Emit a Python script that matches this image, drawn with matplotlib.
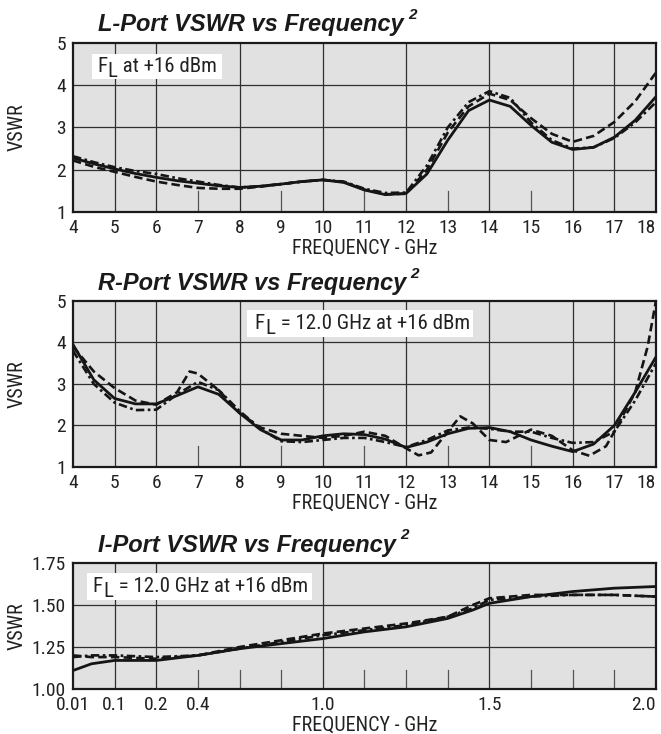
import numpy as np
import matplotlib
matplotlib.use("Agg")
import matplotlib.pyplot as plt
from matplotlib import font_manager
from matplotlib.patches import Rectangle

# -------- FONTS --------
names = {f.name for f in font_manager.fontManager.ttflist}
NARROW = "Liberation Sans"
for cand in ["Liberation Sans Narrow", "Roboto Condensed", "DejaVu Sans Condensed",
             "Liberation Sans"]:
    if cand in names:
        NARROW = cand
        break
TITLE_FONT = "Liberation Sans" if "Liberation Sans" in names else "DejaVu Sans"
plt.rcParams["font.family"] = [NARROW, "DejaVu Sans"]

# -------- DATA: L-PORT --------
L_FREQ = [4, 4.5, 5, 5.5, 6, 6.5, 7, 7.5, 8, 8.5, 9, 9.5, 10, 10.5, 11, 11.5, 12,
          12.5, 13, 13.5, 14, 14.5, 15, 15.5, 16, 16.5, 17, 17.5, 18]
L_SOLID = [2.28, 2.14, 2.02, 1.91, 1.82, 1.74, 1.68, 1.62, 1.58, 1.61, 1.66, 1.72, 1.76,
           1.70, 1.52, 1.41, 1.44, 1.90, 2.70, 3.40, 3.65, 3.50, 3.05, 2.65, 2.48,
           2.53, 2.77, 3.17, 3.73]
L_DASH = [2.22, 2.07, 1.95, 1.83, 1.72, 1.64, 1.57, 1.55, 1.55, 1.60, 1.66, 1.72, 1.76,
          1.71, 1.53, 1.42, 1.43, 2.00, 2.88, 3.50, 3.80, 3.65, 3.22, 2.85, 2.66,
          2.80, 3.13, 3.62, 4.30]
L_DASHDOT = [2.32, 2.18, 2.06, 1.97, 1.90, 1.80, 1.72, 1.64, 1.58, 1.61, 1.66, 1.72, 1.76,
             1.72, 1.55, 1.45, 1.46, 2.10, 3.00, 3.60, 3.86, 3.70, 3.12, 2.70, 2.50,
             2.53, 2.75, 3.12, 3.60]

# -------- DATA: R-PORT --------
R_FREQ = [4, 4.5, 5, 5.5, 6, 6.5, 7, 7.5, 8, 8.5, 9, 9.5, 10, 10.5, 11, 11.5, 12,
          12.5, 13, 13.5, 14, 14.5, 15, 15.5, 16, 16.5, 17, 17.5, 18]
R_SOLID = [3.95, 3.10, 2.65, 2.52, 2.52, 2.72, 2.93, 2.75, 2.30, 1.90, 1.65, 1.65, 1.75,
           1.80, 1.78, 1.67, 1.47, 1.60, 1.80, 1.93, 1.95, 1.85, 1.65, 1.50, 1.37,
           1.55, 2.00, 2.80, 3.65]
R_DASH_FREQ = [4, 4.5, 5, 5.5, 6, 6.5, 6.8, 7, 7.5, 8, 8.5, 9, 9.5, 10, 10.5, 11, 11.5,
               12, 12.3, 12.6, 13, 13.3, 13.6, 14, 14.4, 15, 15.5, 16, 16.4, 16.8, 17,
               17.5, 17.8, 18]
R_DASH = [3.90, 3.30, 2.90, 2.60, 2.50, 2.80, 3.30, 3.25, 2.85, 2.30, 1.95, 1.80, 1.75,
          1.70, 1.75, 1.85, 1.75, 1.45, 1.28, 1.35, 1.85, 2.22, 2.05, 1.65, 1.60, 1.90,
          1.75, 1.40, 1.27, 1.50, 1.85, 2.80, 3.90, 5.00]
R_DASHDOT = [3.80, 3.00, 2.55, 2.37, 2.38, 2.75, 3.05, 2.85, 2.35, 1.92, 1.62, 1.60, 1.65,
             1.70, 1.70, 1.60, 1.48, 1.65, 1.88, 1.95, 1.92, 1.85, 1.85, 1.70, 1.58,
             1.60, 1.85, 2.60, 3.50]

# -------- DATA: I-PORT --------
I_FREQ = [0.01, 0.05, 0.1, 0.2, 0.4, 0.6, 0.8, 1.0, 1.125, 1.25, 1.375, 1.45, 1.5,
          1.625, 1.75, 1.875, 2.0]
I_SOLID = [1.11, 1.15, 1.17, 1.17, 1.20, 1.24, 1.27, 1.30, 1.34, 1.37, 1.42, 1.47, 1.51,
           1.55, 1.58, 1.60, 1.61]
I_DASH = [1.20, 1.19, 1.19, 1.18, 1.20, 1.25, 1.29, 1.33, 1.36, 1.39, 1.43, 1.50, 1.54,
          1.56, 1.56, 1.56, 1.55]
I_DASHDOT = [1.19, 1.20, 1.20, 1.19, 1.20, 1.24, 1.28, 1.32, 1.35, 1.38, 1.43, 1.48, 1.53,
             1.55, 1.56, 1.56, 1.55]

I_BREAK_GHZ = [0.01, 0.1, 0.2, 0.4, 1.0, 1.5, 2.0]
I_BREAK_POS = [0, 1, 2, 3, 6, 10, 14]
I_TICKS = [0.01, 0.1, 0.2, 0.4, 1.0, 1.5, 2.0]
I_TICKLABELS = ["0.01", "0.1", "0.2", "0.4", "1.0", "1.5", "2.0"]

LINE = "#151515"
GRID = "#303030"
TXT = "#222222"


def fwd(x):
    return np.interp(x, I_BREAK_GHZ, I_BREAK_POS)


def inv(x):
    return np.interp(x, I_BREAK_POS, I_BREAK_GHZ)


def style_axes(ax):
    ax.set_facecolor("#e1e1e2")
    for s in ax.spines.values():
        s.set_linewidth(1.6)
        s.set_color("#1a1a1a")
    ax.tick_params(length=0, labelsize=14, colors=TXT, pad=5)
    ax.set_ylabel("VSWR", fontsize=14.5, color=TXT)
    ax.yaxis.set_label_coords(-0.079, 0.5)
    ax.set_xlabel("FREQUENCY - GHz", fontsize=14.5, color=TXT, labelpad=1)


def last_label_right(ax):
    lbl = ax.get_xticklabels()[-1]
    lbl.set_horizontalalignment("right")


def add_title(ax, text, y):
    t = ax.text(0.043, y, text, transform=ax.transAxes, fontsize=17,
                fontweight="bold", fontstyle="italic", family=TITLE_FONT,
                color="#1a1a1a", va="baseline")
    ax.annotate("2", xy=(1, 0.62), xycoords=t, xytext=(3, 0),
                textcoords="offset points", fontsize=11, fontweight="bold",
                fontstyle="italic", family=TITLE_FONT, color="#1a1a1a", va="bottom")


def add_note(ax, box, xy, rest):
    ax.add_patch(Rectangle(box[:2], box[2], box[3], transform=ax.transAxes,
                           facecolor="white", edgecolor="none", zorder=3))
    f = ax.text(xy[0], xy[1], "F", transform=ax.transAxes, fontsize=15,
                color=TXT, va="baseline", zorder=4)
    sub = ax.annotate("L", xy=(1, 0), xycoords=f, xytext=(0.5, -3.5),
                      textcoords="offset points", fontsize=15, color=TXT,
                      va="bottom", zorder=4)
    ax.annotate(rest, xy=(1, 0), xycoords=(sub, f), xytext=(0, 0),
                textcoords="offset points", fontsize=15, color=TXT,
                va="bottom", zorder=4)


def draw_curves(ax, xs, ys):
    dashes = [None, (0, (3.2, 1.6)), (0, (3.2, 1.3, 1.0, 1.3))]
    for x, y, ls in zip(xs, ys, dashes):
        if ls is None:
            ax.plot(x, y, color=LINE, lw=2.0, solid_capstyle="round", zorder=5)
        else:
            ax.plot(x, y, color=LINE, lw=1.9, linestyle=ls, zorder=5)


fig = plt.figure(figsize=(6.61, 7.34), dpi=100)
ax1 = fig.add_axes([0.1104, 0.7112, 0.882, 0.2302])
ax2 = fig.add_axes([0.1104, 0.3638, 0.882, 0.2262])
ax3 = fig.add_axes([0.1104, 0.0613, 0.882, 0.1717])

# -------- L and R panels --------
for ax in (ax1, ax2):
    style_axes(ax)
    ax.set_xlim(4, 18)
    ax.set_ylim(1, 5)
    ax.set_xticks(range(4, 19))
    ax.set_yticks([1, 2, 3, 4, 5])
    last_label_right(ax)
    for xv in [5, 6, 8, 10, 12, 14, 16, 17]:
        ax.axvline(xv, color=GRID, lw=0.9, zorder=1)
    for xv in [7, 9, 11, 13, 15]:
        ax.axvline(xv, ymin=0, ymax=0.125, color="#555555", lw=0.9, zorder=1)
    for yv in [2, 3, 4]:
        ax.axhline(yv, color=GRID, lw=0.9, zorder=1)

draw_curves(ax1, [L_FREQ, L_FREQ, L_FREQ], [L_SOLID, L_DASH, L_DASHDOT])
add_title(ax1, "L-Port VSWR vs Frequency", 1.07)
add_note(ax1, (0.0326, 0.787, 0.223, 0.148), (0.041, 0.828), " at +16 dBm")

draw_curves(ax2, [R_FREQ, R_DASH_FREQ, R_FREQ], [R_SOLID, R_DASH, R_DASHDOT])
add_title(ax2, "R-Port VSWR vs Frequency", 1.065)
add_note(ax2, (0.298, 0.783, 0.388, 0.163), (0.312, 0.831), " = 12.0 GHz at +16 dBm")

# -------- I panel --------
style_axes(ax3)
ax3.set_xscale("function", functions=(fwd, inv))
ax3.set_xlim(0.01, 2.0)
ax3.set_ylim(1.0, 1.75)
ax3.set_xticks(I_TICKS)
ax3.set_xticklabels(I_TICKLABELS)
last_label_right(ax3)
ax3.xaxis.set_minor_locator(matplotlib.ticker.NullLocator())
ax3.set_yticks([1.0, 1.25, 1.5, 1.75])
ax3.set_yticklabels(["1.00", "1.25", "1.50", "1.75"])
for xv in [0.1, 0.2, 1.0, 1.5]:
    ax3.axvline(xv, color=GRID, lw=0.9, zorder=1)
for xv in [0.4, 0.6, 0.8, 1.125, 1.25, 1.375, 1.625, 1.75, 1.875]:
    ax3.axvline(xv, ymin=0, ymax=0.15, color="#555555", lw=0.9, zorder=1)
for yv in [1.25, 1.5]:
    ax3.axhline(yv, color=GRID, lw=0.9, zorder=1)
draw_curves(ax3, [I_FREQ, I_FREQ, I_FREQ], [I_SOLID, I_DASH, I_DASHDOT])
add_title(ax3, "I-Port VSWR vs Frequency", 1.09)
add_note(ax3, (0.024, 0.706, 0.386, 0.214), (0.034, 0.770), " = 12.0 GHz at +16 dBm")

fig.savefig("out.png", dpi=100)
